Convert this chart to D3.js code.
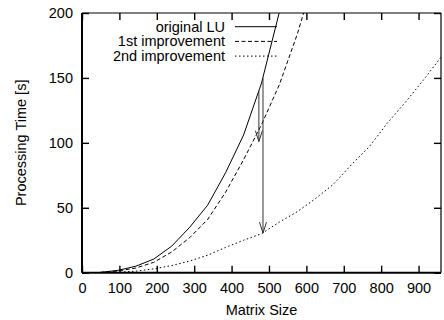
<!DOCTYPE html>
<html>
<head>
<meta charset="utf-8">
<script src="https://cdn.jsdelivr.net/npm/d3@7"></script>
<style>
  body { margin: 0; background: #fff; }
  text { font-family: "Liberation Sans", Arial, sans-serif; }
</style>
</head>
<body>
<svg id="chart" width="444" height="320"></svg>
<script>
// matrix sizes (multiples of 48) and measured times in seconds
var sizes = [48, 96, 144, 192, 240, 288, 336, 384, 432, 480, 528, 576, 624, 672, 720, 768, 816, 864, 912, 960];
var originalLU = [0.2, 1.8, 5, 10.5, 20.5, 35, 52, 77, 106, 146, 201, 262];
var firstImpr  = [0.2, 1.3, 3.6, 8, 16, 27, 41, 62, 87, 114, 145, 184, 230];
var secondImpr = [0.05, 0.4, 1.2, 3, 5.5, 9, 13.5, 19.5, 25, 30, 39, 47, 57, 68, 83, 97, 115, 131, 148, 166];

var seriesNames = ["original LU", "1st improvement", "2nd improvement"];
var xTicks = [0, 100, 200, 300, 400, 500, 600, 700, 800, 900];
var yTicks = [0, 50, 100, 150, 200];

// arrows: [size, from, to]
var arrows = [[473, 140, 101], [484, 150, 30.5]];

var margin = {left: 82, top: 13, right: 3, bottom: 47.3};
var svg = d3.select("#chart");
var width = +svg.attr("width") - margin.left - margin.right;
var height = +svg.attr("height") - margin.top - margin.bottom;
var g = svg.append("g").attr("transform", `translate(${margin.left}, ${margin.top})`);

var x = d3.scaleLinear().domain([0, 960]).range([0, width]);
var y = d3.scaleLinear().domain([0, 200]).range([height, 0]);

var fs = "14.5px";

svg.append("defs").append("clipPath").attr("id", "clip")
  .append("rect").attr("width", width).attr("height", height);

// axes, ticks pointing inwards on all four sides
var ax = g.append("g").attr("transform", `translate(0, ${height})`)
  .call(d3.axisBottom(x).tickValues(xTicks).tickSizeInner(-7).tickSizeOuter(0).tickPadding(10));
var ay = g.append("g")
  .call(d3.axisLeft(y).tickValues(yTicks).tickSizeInner(-7).tickSizeOuter(0).tickPadding(9));
var at = g.append("g")
  .call(d3.axisTop(x).tickValues(xTicks).tickSizeInner(-7).tickSizeOuter(0).tickFormat(""));
var ar = g.append("g").attr("transform", `translate(${width}, 0)`)
  .call(d3.axisRight(y).tickValues(yTicks).tickSizeInner(-7).tickSizeOuter(0).tickFormat(""));

[ax, ay, at, ar].forEach(function (a) {
  a.select(".domain").remove();
  a.selectAll(".tick line").attr("stroke", "#000").attr("stroke-width", 1.4);
  a.selectAll(".tick text").attr("font-size", fs).attr("fill", "#000")
    .attr("font-family", "'Liberation Sans', Arial, sans-serif");
});

// frame
g.append("line").attr("x1", 0).attr("x2", width).attr("y1", 0).attr("y2", 0).attr("stroke", "#000").attr("stroke-width", 1.2);
g.append("line").attr("x1", width).attr("x2", width).attr("y1", 0).attr("y2", height).attr("stroke", "#000").attr("stroke-width", 1.2);
g.append("line").attr("x1", 0).attr("x2", width).attr("y1", height).attr("y2", height).attr("stroke", "#000").attr("stroke-width", 2);
g.append("line").attr("x1", 0).attr("x2", 0).attr("y1", 0).attr("y2", height).attr("stroke", "#000").attr("stroke-width", 2);

// curves
var line = d3.line().x(d => x(d[0])).y(d => y(d[1]));
var styles = [null, "4,2.5", "1.5,2.5"];
var series = [originalLU, firstImpr, secondImpr];

var plot = g.append("g").attr("clip-path", "url(#clip)");
series.forEach(function (vals, i) {
  plot.append("path")
    .datum(vals.map((v, j) => [sizes[j], v]))
    .attr("fill", "none")
    .attr("stroke", "#000")
    .attr("stroke-width", 1)
    .attr("stroke-dasharray", styles[i])
    .attr("d", line);
});

// arrows
arrows.forEach(function (a) {
  var ax0 = x(a[0]), y0 = y(a[1]), y1 = y(a[2]);
  var ag = g.append("g").attr("stroke", "#333").attr("stroke-width", 1).attr("fill", "none");
  ag.append("line").attr("x1", ax0).attr("x2", ax0).attr("y1", y0).attr("y2", y1);
  ag.append("path").attr("d", `M${ax0 - 3.5},${y1 - 11}L${ax0},${y1}L${ax0 + 3.5},${y1 - 11}`);
});

// legend
var legend = g.append("g");
seriesNames.forEach(function (name, i) {
  var ly = 13.7 + i * 14.7;
  legend.append("text")
    .attr("x", 143).attr("y", ly).attr("dy", "0.35em")
    .attr("text-anchor", "end").attr("font-size", fs).attr("fill", "#000")
    .text(name);
  legend.append("line")
    .attr("x1", 153).attr("x2", 195).attr("y1", ly).attr("y2", ly)
    .attr("stroke", "#000").attr("stroke-width", 1)
    .attr("stroke-dasharray", styles[i]);
});

// axis titles
svg.append("text")
  .attr("x", margin.left + width / 2).attr("y", 315)
  .attr("text-anchor", "middle").attr("font-size", fs)
  .text("Matrix Size");
svg.append("text")
  .attr("transform", `translate(26, ${margin.top + height / 2}) rotate(-90)`)
  .attr("text-anchor", "middle").attr("font-size", fs)
  .text("Processing Time [s]");
</script>
</body>
</html>
